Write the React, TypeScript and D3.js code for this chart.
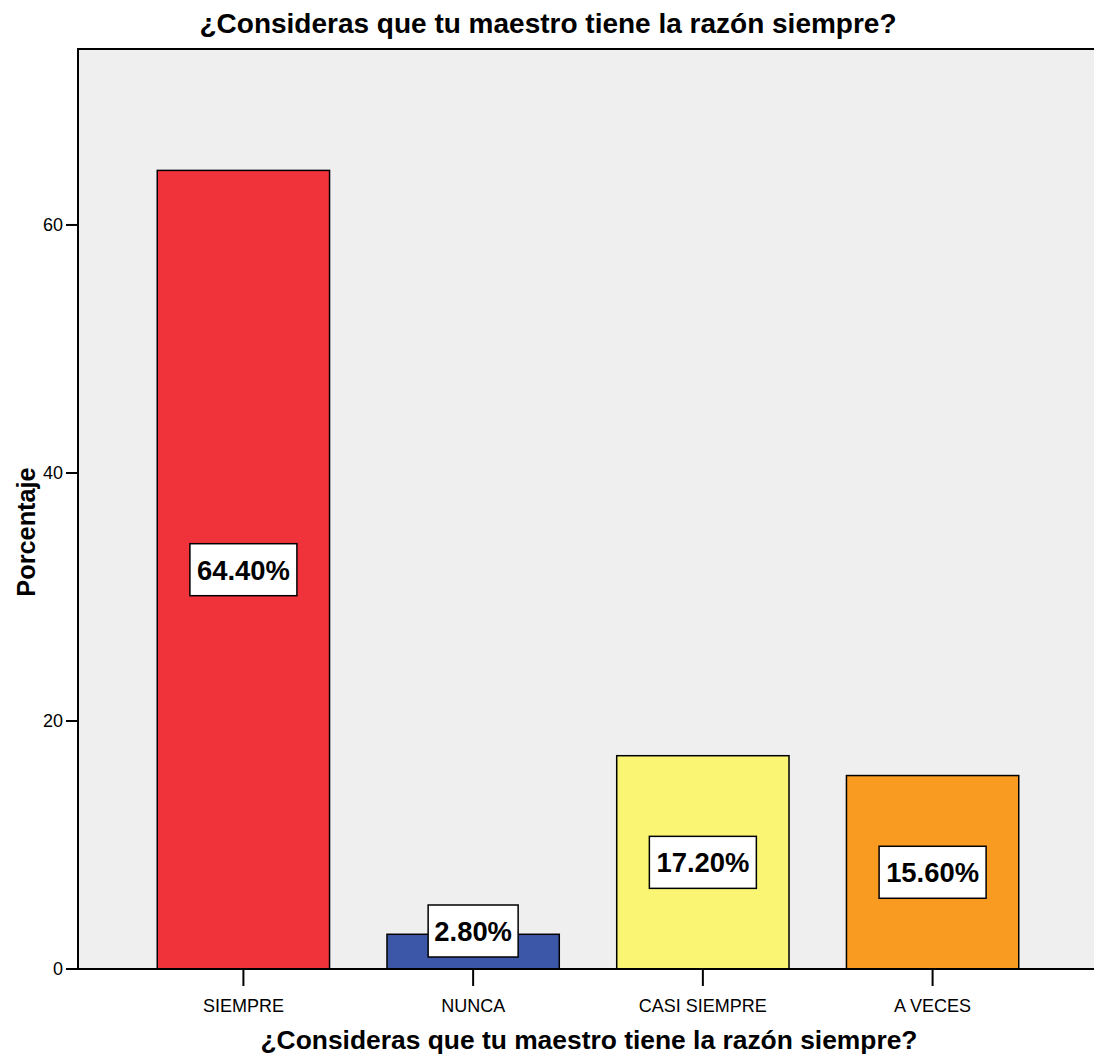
import * as d3 from "d3";
import React from "react";

const categories = ["SIEMPRE", "NUNCA", "CASI SIEMPRE", "A VECES"];
const percentages = [64.4, 2.8, 17.2, 15.6];
const barColors = ["#f0323a", "#3d57a8", "#faf673", "#f99a21"];
const yTicks = [0, 20, 40, 60];

const chartTitle = "¿Consideras que tu maestro tiene la razón siempre?";
const yTitle = "Porcentaje";

const W = 1094;
const H = 1063;
const margin = { top: 49, left: 78, bottom: 94 };
const plotRight = 1098;
const font = "'Liberation Sans', Arial, sans-serif";

const App: React.FC = () => {
    const y0 = H - margin.bottom;
    const y = d3
        .scaleLinear()
        .domain([0, 74.19])
        .range([y0, margin.top]);
    const x = d3
        .scaleBand<string>()
        .domain(categories)
        .range([margin.left, plotRight])
        .paddingInner(0.25)
        .paddingOuter(0.345);

    return (
        <svg
            width={W}
            height={H}
            style={{ position: "absolute", left: 0, top: 0, background: "#fff" }}
            fontFamily={font}
        >
            <text
                x={548}
                y={33}
                textAnchor="middle"
                fontSize={28}
                fontWeight="bold"
            >
                {chartTitle}
            </text>

            {/* plot area */}
            <rect
                x={margin.left}
                y={margin.top}
                width={plotRight - margin.left}
                height={y0 - margin.top}
                fill="#efefef"
                stroke="#000"
                strokeWidth={2}
            />

            {categories.map((c, i) => (
                <rect
                    key={c}
                    x={x(c)!}
                    y={y(percentages[i])}
                    width={x.bandwidth()}
                    height={y0 - y(percentages[i])}
                    fill={barColors[i]}
                    stroke="#000"
                    strokeWidth={1.5}
                />
            ))}

            {/* axes */}
            <line x1={margin.left} x2={W} y1={y0} y2={y0} stroke="#000" strokeWidth={2} />
            {yTicks.map(t => (
                <g key={t} transform={`translate(0,${y(t)})`}>
                    <line x1={66} x2={margin.left} stroke="#000" strokeWidth={2} />
                    <text x={63} dy="0.35em" textAnchor="end" fontSize={18}>
                        {t}
                    </text>
                </g>
            ))}
            {categories.map(c => {
                const cx = x(c)! + x.bandwidth() / 2;
                return (
                    <g key={c} transform={`translate(${cx},${y0})`}>
                        <line y1={0} y2={17} stroke="#000" strokeWidth={2} />
                        <text y={43} textAnchor="middle" fontSize={18}>
                            {c}
                        </text>
                    </g>
                );
            })}

            {/* value labels */}
            {categories.map((c, i) => {
                const cx = x(c)! + x.bandwidth() / 2;
                const mid = (y(percentages[i]) + y0) / 2;
                const cy = Math.min(mid, y0 - 38);
                const label = percentages[i].toFixed(2) + "%";
                const bw = label.length === 5 ? 90 : 107;
                return (
                    <g key={c} transform={`translate(${cx},${cy})`}>
                        <rect
                            x={-bw / 2}
                            y={-26}
                            width={bw}
                            height={52}
                            fill="#fff"
                            stroke="#000"
                            strokeWidth={1.5}
                        />
                        <text
                            textAnchor="middle"
                            dy="0.37em"
                            fontSize={27.4}
                            fontWeight="bold"
                        >
                            {label}
                        </text>
                    </g>
                );
            })}

            <text
                x={589}
                y={1049}
                textAnchor="middle"
                fontSize={26.4}
                fontWeight="bold"
            >
                {chartTitle}
            </text>
            <text
                transform={`translate(35,532) rotate(-90)`}
                textAnchor="middle"
                fontSize={25.3}
                fontWeight="bold"
            >
                {yTitle}
            </text>
        </svg>
    );
};

export default App;
